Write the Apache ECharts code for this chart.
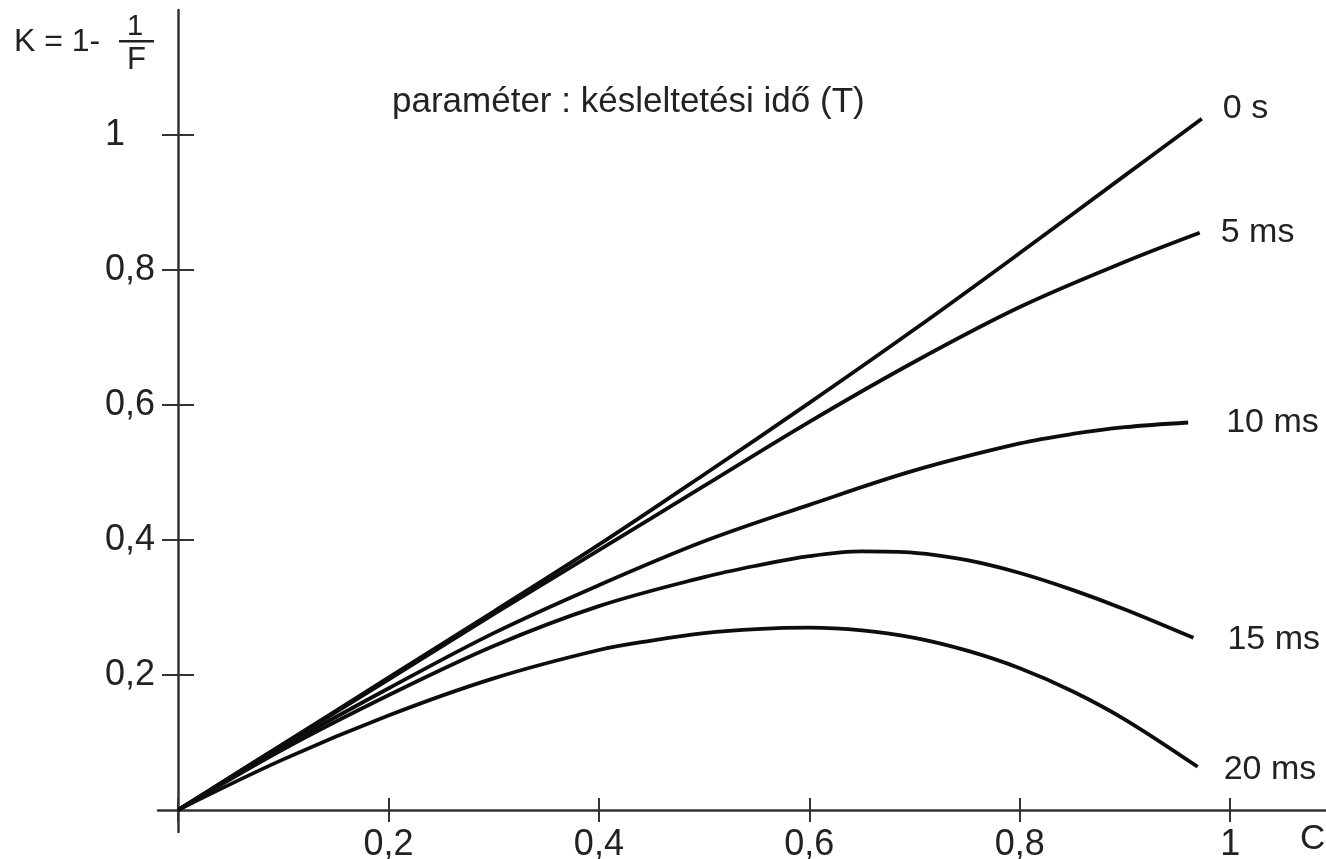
<!DOCTYPE html>
<html>
<head>
<meta charset="utf-8">
<script src="https://cdn.jsdelivr.net/npm/echarts@6/dist/echarts.min.js"></script>
<style>
html,body{margin:0;padding:0;background:#fff;}
#chart{width:1326px;height:859px;}
</style>
</head>
<body>
<div id="chart"></div>
<script>
// ---- data (C on x, K = 1 - 1/F on y) ----
const seriesNames = ['0 s', '5 ms', '10 ms', '15 ms', '20 ms'];
const c0s  = [0, 0.1, 0.2, 0.3, 0.4, 0.5, 0.6, 0.7, 0.8, 0.9, 0.973];
const k0s  = [0, 0.098, 0.196, 0.294, 0.393, 0.497, 0.603, 0.712, 0.825, 0.94, 1.024];
const c5ms = [0, 0.1, 0.2, 0.3, 0.4, 0.5, 0.6, 0.7, 0.8, 0.9, 0.971];
const k5ms = [0, 0.097, 0.193, 0.29, 0.385, 0.48, 0.575, 0.664, 0.745, 0.812, 0.855];
const c10ms = [0, 0.1, 0.2, 0.3, 0.4, 0.5, 0.6, 0.7, 0.8, 0.85, 0.9, 0.96];
const k10ms = [0, 0.094, 0.18, 0.262, 0.333, 0.398, 0.452, 0.503, 0.543, 0.557, 0.567, 0.574];
const c15ms = [0, 0.1, 0.2, 0.3, 0.4, 0.5, 0.55, 0.6, 0.65, 0.7, 0.75, 0.8, 0.85, 0.9, 0.965];
const k15ms = [0, 0.09, 0.17, 0.243, 0.302, 0.345, 0.362, 0.376, 0.383, 0.381, 0.37, 0.351, 0.326, 0.297, 0.255];
const c20ms = [0, 0.1, 0.2, 0.3, 0.4, 0.45, 0.5, 0.55, 0.6, 0.65, 0.7, 0.75, 0.8, 0.85, 0.9, 0.969];
const k20ms = [0, 0.075, 0.14, 0.195, 0.237, 0.251, 0.262, 0.268, 0.27, 0.266, 0.255, 0.236, 0.21, 0.176, 0.134, 0.064];
const xTickValues = [0, 0.2, 0.4, 0.6, 0.8, 1];
const xLabelValues = [0.2, 0.4, 0.6, 0.8, 1];
const yTickValues = [0.2, 0.4, 0.6, 0.8, 1];
const titleText = 'paraméter : késleltetési idő (T)';
const xName = 'C';

const cs = [c0s, c5ms, c10ms, c15ms, c20ms];
const ks = [k0s, k5ms, k10ms, k15ms, k20ms];
const labelDistances = [21, 21, 38, 34, 26];
const labelOffsets = [[0, -10], [0, 0], [0, 0], [0, 2], [0, 3]];

const FONT = 'Liberation Sans, Arial, sans-serif';
const AX = '#333';
const comma = v => String(v).replace('.', ',');

const xMin = -0.019, xMax = 1.091, yMin = -0.0326, yMax = 1.185;

const chart = echarts.init(document.getElementById('chart'), null, {renderer: 'canvas'});
chart.setOption({
  animation: false,
  backgroundColor: '#fff',
  title: {
    text: titleText, left: 387, top: 80,
    textStyle: {fontFamily: FONT, fontSize: 35, fontWeight: 'normal', color: '#222'}
  },
  grid: {left: 158, right: 0, top: 10, bottom: 27, containLabel: false, outerBoundsMode: 'none'},
  xAxis: [
    {
      type: 'value', min: xMin, max: xMax, position: 'bottom',
      axisLine: {onZero: true, lineStyle: {color: AX, width: 2.5}},
      axisTick: {show: true, customValues: xTickValues, inside: false, length: 12, lineStyle: {color: AX, width: 2}},
      axisLabel: {customValues: xLabelValues, formatter: comma, margin: -5,
        fontFamily: FONT, fontSize: 36, color: '#222'},
      splitLine: {show: false}
    },
    {
      type: 'value', min: xMin, max: xMax, position: 'bottom',
      axisLine: {show: false, onZero: true},
      axisTick: {show: true, customValues: xTickValues, inside: true, length: 12, lineStyle: {color: AX, width: 2}},
      axisLabel: {show: false},
      splitLine: {show: false}
    }
  ],
  yAxis: [
    {
      type: 'value', min: yMin, max: yMax, position: 'left',
      axisLine: {onZero: true, lineStyle: {color: AX, width: 2.5}},
      axisTick: {show: true, customValues: yTickValues, inside: false, length: 16, lineStyle: {color: AX, width: 2}},
      axisLabel: {customValues: yTickValues, formatter: comma, margin: 53, align: 'left',
        fontFamily: FONT, fontSize: 36, color: '#222'},
      splitLine: {show: false}
    },
    {
      type: 'value', min: yMin, max: yMax, position: 'left',
      axisLine: {show: false, onZero: true},
      axisTick: {show: true, customValues: yTickValues, inside: true, length: 16, lineStyle: {color: AX, width: 2}},
      axisLabel: {show: false},
      splitLine: {show: false}
    }
  ],
  graphic: [
    {type: 'text', left: 14, top: 26, style: {text: 'K = 1-', font: '32px ' + FONT, fill: '#222'}},
    {type: 'text', left: 127, top: 12, style: {text: '1', font: '29px ' + FONT, fill: '#222'}},
    {type: 'rect', left: 119, top: 40, shape: {width: 35, height: 2.5}, style: {fill: '#222'}},
    {type: 'text', left: 127, top: 45, style: {text: 'F', font: '31px ' + FONT, fill: '#222'}},
    {type: 'text', left: 1300, top: 822, style: {text: xName, font: '35px ' + FONT, fill: '#222'}}
  ],
  series: seriesNames.map((name, i) => ({
    name: name,
    type: 'line',
    xAxisIndex: 0, yAxisIndex: 0,
    data: cs[i].map((c, j) => [c, ks[i][j]]),
    showSymbol: false,
    smooth: 0.35,
    lineStyle: {color: '#0d0d0d', width: 3.8},
    endLabel: {show: true, formatter: '{a}', distance: labelDistances[i], offset: labelOffsets[i],
      fontFamily: FONT, fontSize: 34, color: '#222'},
    emphasis: {disabled: true}
  }))
});
</script>
</body>
</html>
